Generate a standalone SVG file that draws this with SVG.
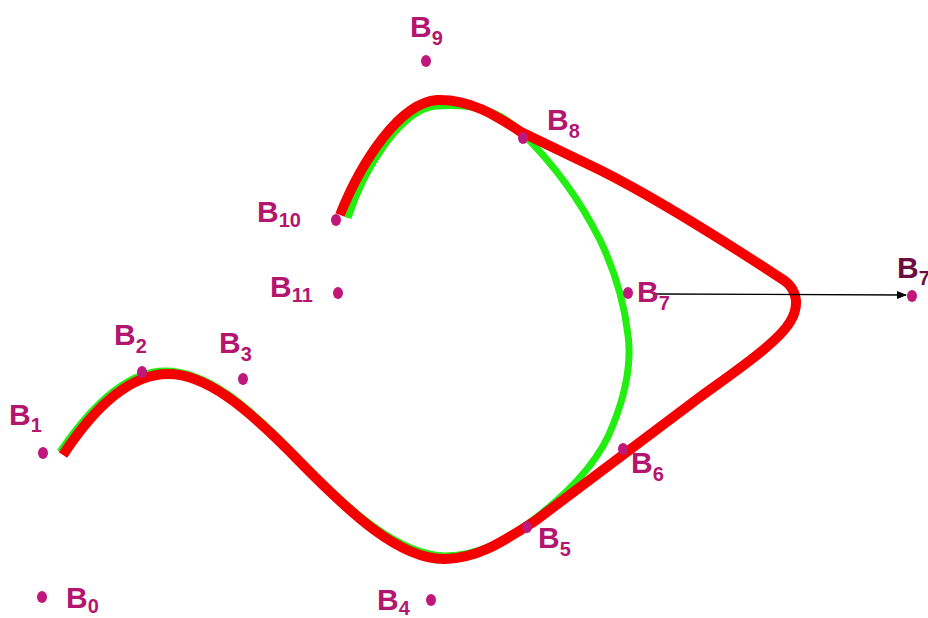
<svg xmlns="http://www.w3.org/2000/svg" width="928" height="618" viewBox="0 0 928 618">
<style>
.lb{font-family:"Liberation Sans",Arial,sans-serif;font-weight:bold;font-size:30px;fill:#b3166f}
.sb{font-size:20px}
.dk{fill:#6a0f3e}
.pt{fill:#c0177a}
.green{fill:none;stroke:#22ee11;stroke-width:7;stroke-linecap:butt}
.red{fill:none;stroke:#f40000;stroke-width:10;stroke-linecap:butt;stroke-linejoin:round}
</style>
<defs>
<marker id="ah" markerWidth="10" markerHeight="10" refX="9" refY="5" orient="auto" markerUnits="userSpaceOnUse">
<path d="M0,1 L10,5 L0,9 z" fill="#000"/>
</marker>
</defs>
<rect width="928" height="618" fill="#fff"/>
<g id="connectors">
<path id="curve-green" class="green" d="M60,452 C85,415 122,371 165,371 C205,371 245,402 300,460 C350,512 400,555 445,556 C480,556 505,540 533,520 C570,492 600,460 613,425 C625,395 632,365 628,335 C624,300 612,265 600,240 C585,210 560,170 521,132 C495,106 465,104 435,106 C402,110 365,165 348,218"/>
<path id="curve-red" class="red" d="M63,455 C88,417 125,374 168,374 C205,374 245,405 300,462 C350,513 400,560 445,559 C480,558 505,540 535,521 L700,397 C740,368 778,342 790,322 C800,306 797,290 785,281 C750,258 660,200 600,170 L521,132 C495,115 470,99 437,100 C400,103 362,160 340,215"/>
<line id="arrow" x1="656" y1="294" x2="906" y2="295" stroke="#000" stroke-width="1.3" marker-end="url(#ah)"/>
</g>
<g id="B0"><ellipse class="pt" cx="42" cy="597" rx="5" ry="6"/><text class="lb" x="66" y="608">B<tspan class="sb" dy="5">0</tspan></text></g>
<g id="B1"><ellipse class="pt" cx="43" cy="453" rx="5" ry="6"/><text class="lb" x="9" y="425">B<tspan class="sb" dy="7">1</tspan></text></g>
<g id="B2"><ellipse class="pt" cx="142" cy="372" rx="5" ry="6"/><text class="lb" x="114" y="345">B<tspan class="sb" dy="8">2</tspan></text></g>
<g id="B3"><ellipse class="pt" cx="243" cy="379" rx="5" ry="6"/><text class="lb" x="219" y="353">B<tspan class="sb" dy="8">3</tspan></text></g>
<g id="B4"><ellipse class="pt" cx="431" cy="600" rx="5" ry="6"/><text class="lb" x="377" y="610">B<tspan class="sb" dy="5">4</tspan></text></g>
<g id="B5"><ellipse class="pt" cx="527" cy="527" rx="5" ry="6"/><text class="lb" x="538" y="548">B<tspan class="sb" dy="8">5</tspan></text></g>
<g id="B6"><ellipse class="pt" cx="623" cy="449" rx="5" ry="6"/><text class="lb" x="631" y="473">B<tspan class="sb" dy="8">6</tspan></text></g>
<g id="B7"><ellipse class="pt" cx="628" cy="293" rx="5" ry="6"/><text class="lb" x="637" y="302">B<tspan class="sb" dy="8">7</tspan></text></g>
<g id="B7r"><ellipse class="pt" cx="912" cy="296" rx="5" ry="6"/><text class="lb dk" x="897" y="278">B<tspan class="sb" dy="7">7</tspan></text></g>
<g id="B8"><ellipse class="pt" cx="523" cy="138" rx="5" ry="6"/><text class="lb" x="547" y="130">B<tspan class="sb" dy="8">8</tspan></text></g>
<g id="B9"><ellipse class="pt" cx="426" cy="61" rx="5" ry="6"/><text class="lb" x="410" y="37">B<tspan class="sb" dy="8">9</tspan></text></g>
<g id="B10"><ellipse class="pt" cx="336" cy="220" rx="5" ry="6"/><text class="lb" x="257" y="222">B<tspan class="sb" dy="5">10</tspan></text></g>
<g id="B11"><ellipse class="pt" cx="338" cy="293" rx="5" ry="6"/><text class="lb" x="270" y="297">B<tspan class="sb" dy="5">11</tspan></text></g>
</svg>
